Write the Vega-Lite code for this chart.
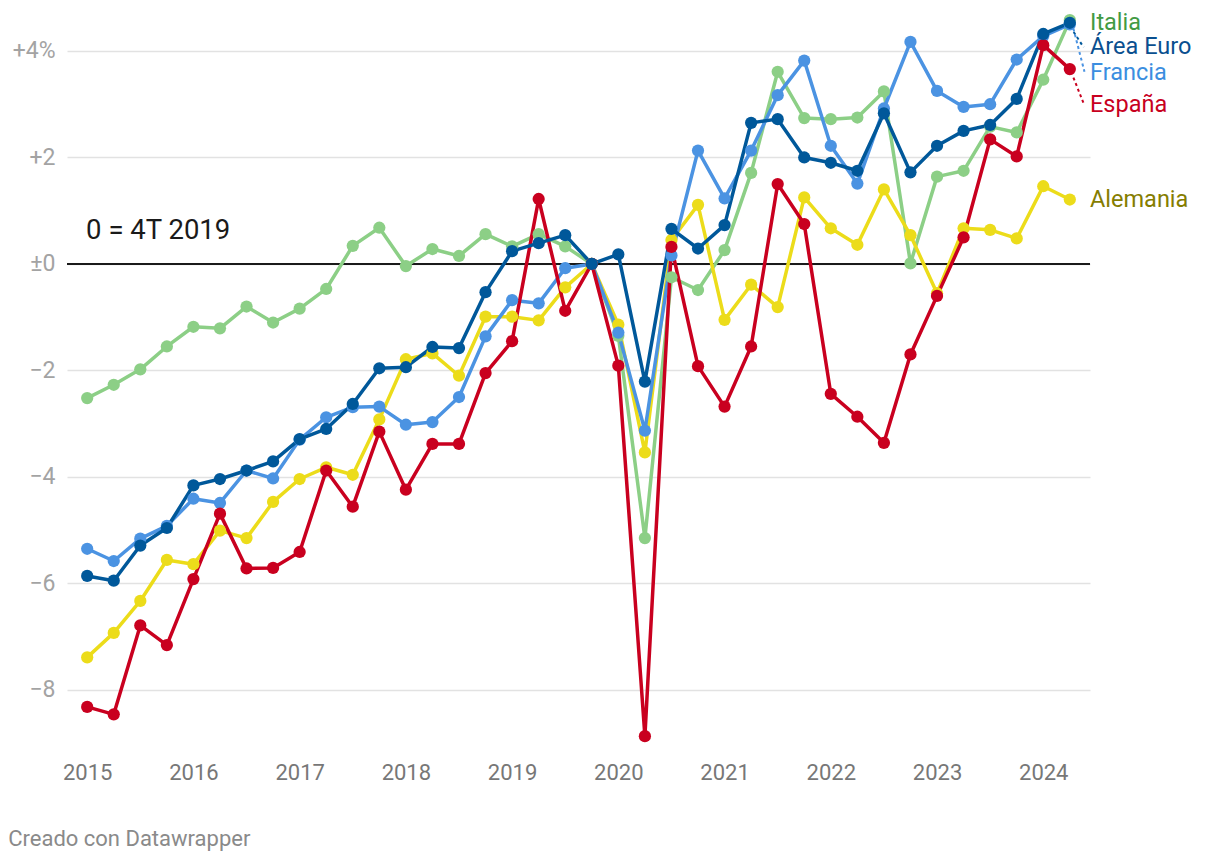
{
  "$schema": "https://vega.github.io/schema/vega-lite/v6.json",
  "width": 1023,
  "height": 740,
  "autosize": {"type": "none"},
  "padding": {"left": 67, "top": 10, "right": 130, "bottom": 114},
  "background": "white",
  "config": {"font": "Roboto", "view": {"stroke": null}},
  "title": {"text": "Creado con Datawrapper", "orient": "bottom", "anchor": "start", "frame": "bounds", "offset": 46, "dx": -4, "fontSize": 22, "fontWeight": "normal", "color": "#8a8a8a", "font": "Roboto"},
  "datasets": {
    "serie": [
      {"t": 2015.00, "Italia": -2.52, "AreaEuro": -5.86, "Francia": -5.35, "Espana": -8.32, "Alemania": -7.39},
      {"t": 2015.25, "Italia": -2.27, "AreaEuro": -5.95, "Francia": -5.58, "Espana": -8.46, "Alemania": -6.93},
      {"t": 2015.50, "Italia": -1.98, "AreaEuro": -5.29, "Francia": -5.16, "Espana": -6.79, "Alemania": -6.33},
      {"t": 2015.75, "Italia": -1.55, "AreaEuro": -4.96, "Francia": -4.92, "Espana": -7.16, "Alemania": -5.56},
      {"t": 2016.00, "Italia": -1.18, "AreaEuro": -4.16, "Francia": -4.41, "Espana": -5.92, "Alemania": -5.64},
      {"t": 2016.25, "Italia": -1.21, "AreaEuro": -4.04, "Francia": -4.49, "Espana": -4.69, "Alemania": -5.01},
      {"t": 2016.50, "Italia": -0.80, "AreaEuro": -3.88, "Francia": -3.88, "Espana": -5.72, "Alemania": -5.15},
      {"t": 2016.75, "Italia": -1.10, "AreaEuro": -3.71, "Francia": -4.03, "Espana": -5.71, "Alemania": -4.47},
      {"t": 2017.00, "Italia": -0.84, "AreaEuro": -3.29, "Francia": -3.30, "Espana": -5.41, "Alemania": -4.04},
      {"t": 2017.25, "Italia": -0.47, "AreaEuro": -3.10, "Francia": -2.88, "Espana": -3.88, "Alemania": -3.82},
      {"t": 2017.50, "Italia": 0.34, "AreaEuro": -2.63, "Francia": -2.69, "Espana": -4.56, "Alemania": -3.96},
      {"t": 2017.75, "Italia": 0.68, "AreaEuro": -1.96, "Francia": -2.68, "Espana": -3.15, "Alemania": -2.92},
      {"t": 2018.00, "Italia": -0.04, "AreaEuro": -1.94, "Francia": -3.02, "Espana": -4.24, "Alemania": -1.79},
      {"t": 2018.25, "Italia": 0.28, "AreaEuro": -1.56, "Francia": -2.97, "Espana": -3.38, "Alemania": -1.68},
      {"t": 2018.50, "Italia": 0.15, "AreaEuro": -1.58, "Francia": -2.50, "Espana": -3.38, "Alemania": -2.10},
      {"t": 2018.75, "Italia": 0.56, "AreaEuro": -0.53, "Francia": -1.36, "Espana": -2.05, "Alemania": -0.99},
      {"t": 2019.00, "Italia": 0.33, "AreaEuro": 0.24, "Francia": -0.68, "Espana": -1.45, "Alemania": -0.99},
      {"t": 2019.25, "Italia": 0.56, "AreaEuro": 0.39, "Francia": -0.74, "Espana": 1.22, "Alemania": -1.06},
      {"t": 2019.50, "Italia": 0.33, "AreaEuro": 0.54, "Francia": -0.08, "Espana": -0.88, "Alemania": -0.44},
      {"t": 2019.75, "Italia": 0, "AreaEuro": 0, "Francia": 0, "Espana": 0, "Alemania": 0},
      {"t": 2020.00, "Italia": -1.35, "AreaEuro": 0.18, "Francia": -1.29, "Espana": -1.91, "Alemania": -1.14},
      {"t": 2020.25, "Italia": -5.15, "AreaEuro": -2.21, "Francia": -3.13, "Espana": -8.87, "Alemania": -3.54},
      {"t": 2020.50, "Italia": -0.25, "AreaEuro": 0.66, "Francia": 0.16, "Espana": 0.32, "Alemania": 0.45},
      {"t": 2020.75, "Italia": -0.49, "AreaEuro": 0.29, "Francia": 2.13, "Espana": -1.92, "Alemania": 1.11},
      {"t": 2021.00, "Italia": 0.26, "AreaEuro": 0.73, "Francia": 1.23, "Espana": -2.68, "Alemania": -1.05},
      {"t": 2021.25, "Italia": 1.71, "AreaEuro": 2.65, "Francia": 2.13, "Espana": -1.55, "Alemania": -0.39},
      {"t": 2021.50, "Italia": 3.61, "AreaEuro": 2.72, "Francia": 3.17, "Espana": 1.50, "Alemania": -0.81},
      {"t": 2021.75, "Italia": 2.74, "AreaEuro": 2.00, "Francia": 3.82, "Espana": 0.75, "Alemania": 1.25},
      {"t": 2022.00, "Italia": 2.72, "AreaEuro": 1.90, "Francia": 2.22, "Espana": -2.44, "Alemania": 0.67},
      {"t": 2022.25, "Italia": 2.75, "AreaEuro": 1.75, "Francia": 1.51, "Espana": -2.87, "Alemania": 0.36},
      {"t": 2022.50, "Italia": 3.24, "AreaEuro": 2.83, "Francia": 2.92, "Espana": -3.36, "Alemania": 1.40},
      {"t": 2022.75, "Italia": 0.01, "AreaEuro": 1.72, "Francia": 4.17, "Espana": -1.70, "Alemania": 0.54},
      {"t": 2023.00, "Italia": 1.64, "AreaEuro": 2.22, "Francia": 3.25, "Espana": -0.60, "Alemania": -0.55},
      {"t": 2023.25, "Italia": 1.75, "AreaEuro": 2.50, "Francia": 2.95, "Espana": 0.50, "Alemania": 0.67},
      {"t": 2023.50, "Italia": 2.58, "AreaEuro": 2.61, "Francia": 3.00, "Espana": 2.34, "Alemania": 0.64},
      {"t": 2023.75, "Italia": 2.47, "AreaEuro": 3.10, "Francia": 3.84, "Espana": 2.02, "Alemania": 0.48},
      {"t": 2024.00, "Italia": 3.46, "AreaEuro": 4.32, "Francia": 4.28, "Espana": 4.11, "Alemania": 1.46},
      {"t": 2024.25, "Italia": 4.58, "AreaEuro": 4.53, "Francia": 4.50, "Espana": 3.66, "Alemania": 1.21}
    ],
    "etiquetas": [
      {"pais": "Italia", "texto": "Italia", "t": 2024.44, "v": 4.52},
      {"pais": "AreaEuro", "texto": "Área Euro", "t": 2024.44, "v": 4.07},
      {"pais": "Francia", "texto": "Francia", "t": 2024.44, "v": 3.58},
      {"pais": "Espana", "texto": "España", "t": 2024.44, "v": 2.985},
      {"pais": "Alemania", "texto": "Alemania", "t": 2024.44, "v": 1.20}
    ],
    "conectores": [
      {"pais": "AreaEuro", "t": 2024.255, "v": 4.45, "t2": 2024.38, "v2": 4.07},
      {"pais": "Francia", "t": 2024.284, "v": 4.42, "t2": 2024.388, "v2": 3.61},
      {"pais": "Espana", "t": 2024.284, "v": 3.50, "t2": 2024.379, "v2": 3.02}
    ]
  },
  "layer": [
    {
      "data": {"values": [{"v": 0}]},
      "mark": {"type": "rule", "color": "#1a1a1a", "strokeWidth": 2},
      "encoding": {
        "y": {
          "field": "v", "type": "quantitative",
          "scale": {"domain": [-9.13, 4.77], "nice": false, "zero": false},
          "axis": {
            "values": [-8, -6, -4, -2, 0, 2, 4],
            "labelExpr": "datum.value == 4 ? '+4%' : datum.value > 0 ? '+' + datum.value : datum.value == 0 ? '±0' : '−' + abs(datum.value)",
            "title": null, "domain": false, "ticks": false,
            "grid": true, "gridColor": "#e2e2e2", "gridWidth": 1.5,
            "labelColor": "#a3a3a3", "labelFontSize": 23, "labelPadding": 12, "labelFont": "Roboto"
          }
        }
      }
    },
    {
      "data": {"name": "conectores"},
      "mark": {"type": "rule", "strokeWidth": 2, "strokeDash": [3, 3]},
      "encoding": {
        "x": {"field": "t", "type": "quantitative", "scale": {"domain": [2014.81, 2024.44], "nice": false, "zero": false}},
        "y": {"field": "v", "type": "quantitative"},
        "x2": {"field": "t2"},
        "y2": {"field": "v2"},
        "color": {
          "field": "pais", "type": "nominal", "legend": null,
          "scale": {"domain": ["AreaEuro", "Francia", "Espana"], "range": ["#00589a", "#4b93e2", "#c9001f"]}
        }
      }
    },
    {
      "data": {"name": "serie"},
      "transform": [{"fold": ["Italia", "Alemania", "Francia", "Espana", "AreaEuro"], "as": ["pais", "v"]}],
      "layer": [
        {
          "mark": {"type": "line", "strokeWidth": 3.5, "strokeJoin": "round"},
          "encoding": {
            "x": {
              "field": "t", "type": "quantitative",
              "scale": {"domain": [2014.81, 2024.44], "nice": false, "zero": false},
              "axis": {
                "values": [2015, 2016, 2017, 2018, 2019, 2020, 2021, 2022, 2023, 2024],
                "format": "d", "title": null, "domain": false, "ticks": false, "grid": false,
                "labelColor": "#777777", "labelFontSize": 22, "labelPadding": 12, "labelFont": "Roboto"
              }
            },
            "y": {"field": "v", "type": "quantitative"},
            "color": {
              "field": "pais", "type": "nominal", "legend": null,
              "scale": {
                "domain": ["Italia", "Alemania", "Francia", "Espana", "AreaEuro"],
                "range": ["#8ccf86", "#ecdc1a", "#4b93e2", "#c9001f", "#00589a"]
              }
            }
          }
        },
        {
          "mark": {"type": "point", "filled": true, "opacity": 1, "size": 150},
          "encoding": {
            "x": {"field": "t", "type": "quantitative"},
            "y": {"field": "v", "type": "quantitative"},
            "color": {"field": "pais", "type": "nominal", "legend": null}
          }
        }
      ]
    },
    {
      "data": {"name": "etiquetas"},
      "mark": {"type": "text", "align": "left", "baseline": "middle", "fontSize": 23.5, "font": "Roboto"},
      "encoding": {
        "x": {"field": "t", "type": "quantitative"},
        "y": {"field": "v", "type": "quantitative"},
        "text": {"field": "texto"},
        "color": {
          "field": "texto", "type": "nominal", "legend": null,
          "scale": {
            "domain": ["Italia", "Área Euro", "Francia", "España", "Alemania"],
            "range": ["#429a43", "#0a4f8f", "#3b8ee0", "#c8001e", "#857d00"]
          }
        }
      }
    },
    {
      "data": {"values": [{"t": 2014.99, "v": 0.62, "texto": "0 = 4T 2019"}]},
      "mark": {"type": "text", "align": "left", "baseline": "middle", "fontSize": 27.5, "font": "Roboto", "color": "#1a1a1a"},
      "encoding": {
        "x": {"field": "t", "type": "quantitative"},
        "y": {"field": "v", "type": "quantitative"},
        "text": {"field": "texto"}
      }
    }
  ],
  "resolve": {"scale": {"color": "independent"}}
}
